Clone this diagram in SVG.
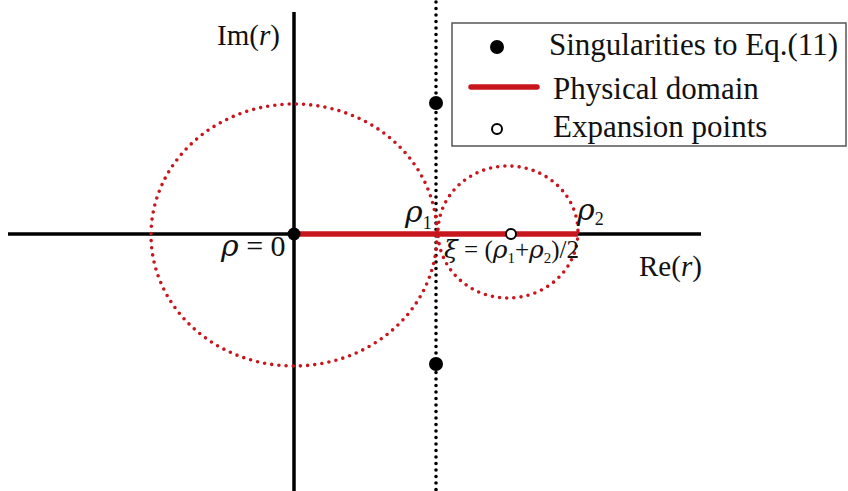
<svg xmlns="http://www.w3.org/2000/svg" width="848" height="491" viewBox="0 0 848 491">
<style>
text{font-family:"Liberation Serif","Times New Roman",serif;fill:#111}
.ax{stroke:#000;stroke-width:3.5;fill:none}
.rc{stroke:#c8161d;stroke-width:3.6;fill:none;stroke-dasharray:0 7.2;stroke-linecap:round}
.vd{stroke:#000;stroke-width:3.6;fill:none;stroke-dasharray:0 6.5;stroke-linecap:round}
.it{font-style:italic}
.gk{font-family:"DejaVu Serif","Liberation Serif",serif;font-style:italic}
</style>
<rect width="848" height="491" fill="#fff"/>
<g id="connectors">
<line class="ax" x1="8" y1="234" x2="701" y2="234"/>
<line class="ax" x1="294" y1="12" x2="294" y2="491"/>
<line class="vd" x1="436" y1="2" x2="436" y2="491"/>
<ellipse class="rc" cx="294" cy="235" rx="143" ry="131"/>
<ellipse class="rc" cx="508" cy="232" rx="70" ry="66"/>
<line x1="294" y1="234" x2="578" y2="234" stroke="#c8161d" stroke-width="5.5"/>
</g>
<g id="origin"><circle cx="294" cy="234" r="6.5" fill="#000"/><text x="221" y="256" font-size="30"><tspan class="gk">ρ</tspan> = 0</text></g>
<g id="sing-top"><circle cx="436" cy="103" r="7" fill="#000"/></g>
<g id="sing-bottom"><circle cx="436" cy="364" r="7" fill="#000"/></g>
<g id="expansion"><circle cx="511" cy="234" r="5" fill="#fff" stroke="#000" stroke-width="2"/></g>
<g id="labels">
<text x="217" y="45" font-size="29">Im(<tspan class="it">r</tspan>)</text>
<text x="639" y="276" font-size="29">Re(<tspan class="it">r</tspan>)</text>
<text x="405" y="222" font-size="30"><tspan class="gk">ρ</tspan><tspan font-size="18" dy="7">1</tspan></text>
<text x="577" y="220" font-size="30"><tspan class="gk">ρ</tspan><tspan font-size="18" dy="5">2</tspan></text>
<text x="444" y="258" font-size="25"><tspan class="gk">ξ</tspan> = (<tspan class="gk">ρ</tspan><tspan font-size="15" dy="5">1</tspan><tspan dy="-5">+</tspan><tspan class="gk">ρ</tspan><tspan font-size="15" dy="5">2</tspan><tspan dy="-5">)/2</tspan></text>
</g>
<g id="legend">
<rect x="452" y="23" width="394" height="123" fill="#fff" stroke="#555" stroke-width="1.5"/>
<circle cx="497" cy="47" r="7" fill="#000"/>
<text x="549" y="55" font-size="31">Singularities to Eq.(11)</text>
<line x1="471" y1="87" x2="537" y2="87" stroke="#c8161d" stroke-width="5.5" stroke-linecap="round"/>
<text x="553" y="99" font-size="31">Physical domain</text>
<circle cx="497" cy="129" r="5" fill="#fff" stroke="#000" stroke-width="2"/>
<text x="553" y="137" font-size="31">Expansion points</text>
</g>
</svg>
